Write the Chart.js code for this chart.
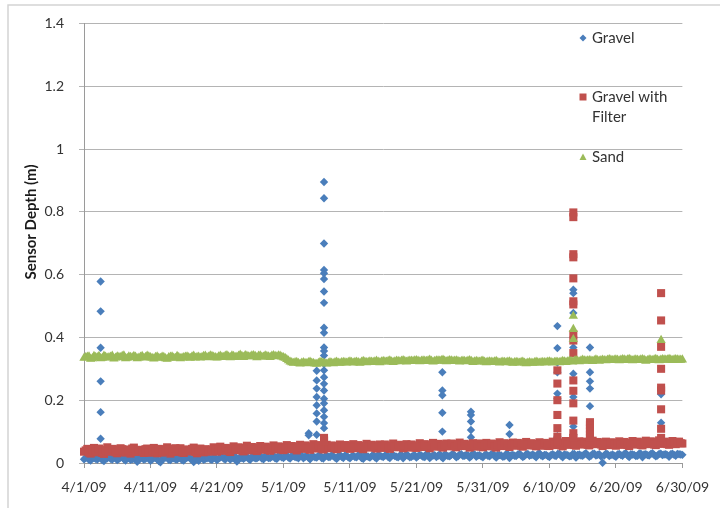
<!DOCTYPE html>
<html>
<head>
    <meta charset="UTF-8">
    <title>sensorDepth</title>
    <script src="https://cdn.jsdelivr.net/npm/chart.js"></script>
    <style>
        body { margin: 0; background: #fff; }
    </style>
</head>
<body>
    <div style="width:720px;height:508px">
        <canvas id="depthChart" width="720" height="508"></canvas>
    </div>

    <script>
        // x = days since 4/1/09; *Base readings at 0, 0.5, 1 ... and *Mid readings at 0.25, 0.75 ...
        var stepDays = 0.5;
        var xTickLabels = ['4/1/09', '4/11/09', '4/21/09', '5/1/09', '5/11/09', '5/21/09', '5/31/09', '6/10/09', '6/20/09', '6/30/09'];
        var yTickLabels = ['0', '0.2', '0.4', '0.6', '0.8', '1', '1.2', '1.4'];
        var seriesNames = ['Gravel', 'Gravel with Filter', 'Sand'];

        var gravelBase = [
            0.012, 0.020, 0.008, 0.016, 0.011, 0.022, 0.006, 0.015, 0.013, 0.019, 0.009, 0.017, 0.012, 0.021, 0.010, 0.014, 0.004, 0.018, 0.011, 0.020,
            0.007, 0.016, 0.012, 0.002, 0.014, 0.019, 0.009, 0.015, 0.011, 0.021, 0.008, 0.017, 0.013, 0.003, 0.016, 0.020, 0.010, 0.015, 0.012, 0.019,
            0.009, 0.018, 0.014, 0.022, 0.011, 0.017, 0.005, 0.019, 0.013, 0.021, 0.010, 0.018, 0.015, 0.023, 0.012, 0.020, 0.016, 0.024, 0.013, 0.021,
            0.016, 0.025, 0.014, 0.022, 0.018, 0.026, 0.015, 0.023, 0.012, 0.021, 0.017, 0.025, 0.014, 0.024, 0.019, 0.022, 0.013, 0.026, 0.016, 0.023,
            0.015, 0.024, 0.018, 0.027, 0.013, 0.022, 0.017, 0.026, 0.014, 0.023, 0.019, 0.027, 0.016, 0.025, 0.020, 0.024, 0.015, 0.028, 0.018, 0.023,
            0.017, 0.026, 0.020, 0.029, 0.016, 0.024, 0.019, 0.028, 0.015, 0.025, 0.021, 0.029, 0.018, 0.027, 0.022, 0.026, 0.017, 0.030, 0.020, 0.025,
            0.018, 0.027, 0.021, 0.030, 0.017, 0.025, 0.020, 0.029, 0.016, 0.026, 0.022, 0.030, 0.019, 0.028, 0.023, 0.027, 0.018, 0.031, 0.021, 0.026,
            0.019, 0.028, 0.022, 0.030, 0.018, 0.026, 0.021, 0.029, 0.017, 0.027, 0.023, 0.031, 0.020, 0.029, 0.024, 0.028, 0.001, 0.030, 0.022, 0.027,
            0.020, 0.029, 0.023, 0.031, 0.019, 0.027, 0.022, 0.030, 0.018, 0.028, 0.024, 0.031, 0.021, 0.029, 0.025, 0.028, 0.020, 0.030, 0.023, 0.028, 0.026
        ];
        var gravelMid = [
            0.016, 0.010, 0.018, 0.013, 0.017, 0.009, 0.014, 0.019, 0.011, 0.015, 0.013, 0.020, 0.008, 0.016, 0.012, 0.018, 0.010, 0.015, 0.013, 0.017,
            0.011, 0.019, 0.006, 0.013, 0.017, 0.010, 0.018, 0.012, 0.016, 0.009, 0.014, 0.020, 0.011, 0.015, 0.007, 0.018, 0.013, 0.017, 0.010, 0.016,
            0.014, 0.020, 0.011, 0.017, 0.015, 0.021, 0.012, 0.016, 0.018, 0.013, 0.020, 0.015, 0.019, 0.014, 0.022, 0.016, 0.020, 0.015, 0.023, 0.018,
            0.021, 0.017, 0.023, 0.019, 0.015, 0.024, 0.020, 0.017, 0.022, 0.018, 0.023, 0.016, 0.021, 0.019, 0.025, 0.017, 0.022, 0.020, 0.024, 0.018,
            0.021, 0.019, 0.025, 0.016, 0.024, 0.020, 0.022, 0.018, 0.026, 0.021, 0.023, 0.019, 0.024, 0.022, 0.018, 0.026, 0.021, 0.023, 0.020, 0.025,
            0.022, 0.024, 0.019, 0.027, 0.021, 0.025, 0.023, 0.020, 0.027, 0.022, 0.026, 0.024, 0.021, 0.028, 0.023, 0.025, 0.022, 0.027, 0.024, 0.021,
            0.025, 0.023, 0.028, 0.022, 0.026, 0.024, 0.021, 0.028, 0.025, 0.023, 0.027, 0.024, 0.022, 0.029, 0.025, 0.023, 0.028, 0.024, 0.026, 0.022,
            0.026, 0.024, 0.029, 0.023, 0.027, 0.025, 0.022, 0.029, 0.026, 0.024, 0.028, 0.025, 0.023, 0.030, 0.026, 0.021, 0.024, 0.028, 0.025, 0.023,
            0.027, 0.025, 0.029, 0.024, 0.028, 0.026, 0.023, 0.030, 0.027, 0.025, 0.029, 0.026, 0.024, 0.030, 0.027, 0.025, 0.028, 0.026, 0.029, 0.027
        ];
        var filterBase = [
            0.036, 0.045, 0.030, 0.048, 0.034, 0.042, 0.029, 0.050, 0.038, 0.044, 0.031, 0.047, 0.035, 0.043, 0.030, 0.049, 0.037, 0.041, 0.032, 0.046,
            0.034, 0.048, 0.031, 0.044, 0.036, 0.050, 0.030, 0.045, 0.035, 0.047, 0.032, 0.043, 0.037, 0.049, 0.031, 0.046, 0.034, 0.042, 0.038, 0.050,
            0.036, 0.052, 0.039, 0.047, 0.035, 0.053, 0.041, 0.048, 0.037, 0.055, 0.040, 0.049, 0.038, 0.054, 0.042, 0.050, 0.039, 0.056, 0.043, 0.051,
            0.041, 0.057, 0.044, 0.052, 0.040, 0.058, 0.045, 0.053, 0.042, 0.060, 0.046, 0.055, 0.043, 0.058, 0.047, 0.054, 0.044, 0.059, 0.048, 0.056,
            0.045, 0.060, 0.047, 0.055, 0.044, 0.061, 0.049, 0.056, 0.046, 0.059, 0.048, 0.054, 0.045, 0.062, 0.050, 0.057, 0.047, 0.060, 0.049, 0.055,
            0.048, 0.063, 0.051, 0.058, 0.047, 0.064, 0.052, 0.059, 0.049, 0.062, 0.053, 0.060, 0.050, 0.065, 0.054, 0.058, 0.049, 0.063, 0.052, 0.061,
            0.050, 0.064, 0.053, 0.060, 0.049, 0.066, 0.054, 0.061, 0.051, 0.065, 0.055, 0.062, 0.052, 0.067, 0.056, 0.061, 0.053, 0.066, 0.055, 0.063,
            0.054, 0.068, 0.057, 0.064, 0.053, 0.070, 0.058, 0.065, 0.055, 0.069, 0.059, 0.066, 0.056, 0.071, 0.060, 0.065, 0.054, 0.068, 0.057, 0.064,
            0.055, 0.069, 0.058, 0.065, 0.054, 0.070, 0.059, 0.066, 0.056, 0.071, 0.060, 0.067, 0.057, 0.072, 0.061, 0.066, 0.058, 0.070, 0.060, 0.068, 0.062
        ];
        var filterMid = [
            0.040, 0.033, 0.043, 0.038, 0.046, 0.032, 0.041, 0.036, 0.045, 0.034, 0.039, 0.044, 0.033, 0.040, 0.046, 0.035, 0.042, 0.038, 0.044, 0.033,
            0.041, 0.037, 0.045, 0.033, 0.040, 0.043, 0.036, 0.047, 0.039, 0.034, 0.042, 0.038, 0.045, 0.035, 0.041, 0.039, 0.044, 0.036, 0.043, 0.040,
            0.044, 0.041, 0.048, 0.038, 0.046, 0.043, 0.050, 0.040, 0.047, 0.044, 0.051, 0.042, 0.048, 0.045, 0.052, 0.043, 0.049, 0.046, 0.053, 0.045,
            0.050, 0.047, 0.054, 0.045, 0.051, 0.048, 0.056, 0.046, 0.052, 0.049, 0.057, 0.047, 0.053, 0.050, 0.056, 0.048, 0.054, 0.051, 0.057, 0.049,
            0.053, 0.050, 0.057, 0.048, 0.054, 0.051, 0.058, 0.049, 0.055, 0.052, 0.059, 0.050, 0.056, 0.053, 0.058, 0.051, 0.055, 0.052, 0.059, 0.050,
            0.056, 0.053, 0.060, 0.051, 0.057, 0.054, 0.061, 0.052, 0.058, 0.055, 0.062, 0.053, 0.059, 0.056, 0.061, 0.054, 0.058, 0.055, 0.062, 0.053,
            0.058, 0.055, 0.062, 0.053, 0.059, 0.056, 0.063, 0.054, 0.060, 0.057, 0.064, 0.055, 0.061, 0.058, 0.063, 0.056, 0.060, 0.057, 0.064, 0.055,
            0.061, 0.058, 0.066, 0.056, 0.062, 0.059, 0.067, 0.057, 0.063, 0.060, 0.068, 0.058, 0.064, 0.061, 0.067, 0.059, 0.062, 0.060, 0.066, 0.058,
            0.062, 0.059, 0.067, 0.057, 0.063, 0.060, 0.068, 0.058, 0.064, 0.061, 0.069, 0.059, 0.065, 0.062, 0.068, 0.060, 0.064, 0.061, 0.067, 0.063
        ];
        var sandBase = [
            0.334, 0.338, 0.331, 0.340, 0.336, 0.333, 0.341, 0.335, 0.338, 0.332, 0.339, 0.336, 0.342, 0.334, 0.337, 0.340, 0.333, 0.338, 0.335, 0.341,
            0.336, 0.332, 0.339, 0.334, 0.337, 0.331, 0.338, 0.335, 0.340, 0.333, 0.336, 0.339, 0.334, 0.341, 0.337, 0.335, 0.340, 0.336, 0.342, 0.338,
            0.335, 0.341, 0.337, 0.343, 0.336, 0.340, 0.338, 0.344, 0.337, 0.341, 0.339, 0.343, 0.336, 0.342, 0.338, 0.340, 0.337, 0.343, 0.339, 0.341,
            0.336, 0.330, 0.322, 0.318, 0.321, 0.316, 0.320, 0.317, 0.322, 0.318, 0.315, 0.321, 0.319, 0.316, 0.320, 0.317, 0.322, 0.318, 0.321, 0.319,
            0.323, 0.319, 0.322, 0.318, 0.324, 0.320, 0.323, 0.321, 0.325, 0.320, 0.324, 0.322, 0.326, 0.321, 0.325, 0.323, 0.327, 0.322, 0.325, 0.324,
            0.327, 0.323, 0.326, 0.324, 0.328, 0.322, 0.326, 0.325, 0.328, 0.323, 0.327, 0.324, 0.326, 0.322, 0.325, 0.323, 0.327, 0.321, 0.324, 0.322,
            0.325, 0.320, 0.323, 0.321, 0.324, 0.319, 0.322, 0.320, 0.323, 0.318, 0.321, 0.319, 0.322, 0.317, 0.320, 0.318, 0.322, 0.319, 0.321, 0.320,
            0.323, 0.319, 0.322, 0.320, 0.324, 0.321, 0.325, 0.322, 0.327, 0.323, 0.328, 0.325, 0.327, 0.324, 0.329, 0.325, 0.328, 0.326, 0.330, 0.327,
            0.329, 0.326, 0.330, 0.327, 0.331, 0.326, 0.329, 0.327, 0.330, 0.325, 0.329, 0.327, 0.331, 0.326, 0.330, 0.328, 0.331, 0.327, 0.330, 0.328, 0.329
        ];
        var sandMid = [
            0.336, 0.339, 0.333, 0.337, 0.340, 0.334, 0.338, 0.336, 0.341, 0.335, 0.337, 0.340, 0.333, 0.339, 0.336, 0.338, 0.335, 0.340, 0.337, 0.339,
            0.334, 0.337, 0.335, 0.338, 0.333, 0.336, 0.339, 0.334, 0.337, 0.335, 0.338, 0.336, 0.339, 0.335, 0.338, 0.337, 0.341, 0.338, 0.340, 0.336,
            0.339, 0.338, 0.341, 0.339, 0.342, 0.337, 0.341, 0.340, 0.343, 0.339, 0.342, 0.340, 0.341, 0.338, 0.342, 0.339, 0.341, 0.340, 0.342, 0.338,
            0.334, 0.326, 0.320, 0.320, 0.318, 0.319, 0.318, 0.320, 0.319, 0.316, 0.318, 0.320, 0.317, 0.318, 0.319, 0.320, 0.319, 0.320, 0.320, 0.321,
            0.321, 0.321, 0.320, 0.322, 0.322, 0.321, 0.322, 0.323, 0.322, 0.323, 0.323, 0.324, 0.323, 0.323, 0.324, 0.325, 0.324, 0.324, 0.325, 0.326,
            0.325, 0.325, 0.325, 0.326, 0.325, 0.324, 0.326, 0.327, 0.325, 0.325, 0.326, 0.325, 0.324, 0.324, 0.324, 0.325, 0.324, 0.323, 0.323, 0.324,
            0.322, 0.322, 0.322, 0.323, 0.321, 0.321, 0.321, 0.322, 0.320, 0.320, 0.320, 0.321, 0.319, 0.319, 0.319, 0.320, 0.320, 0.320, 0.320, 0.322,
            0.321, 0.321, 0.321, 0.322, 0.323, 0.323, 0.324, 0.325, 0.325, 0.326, 0.326, 0.326, 0.326, 0.327, 0.327, 0.327, 0.327, 0.328, 0.328, 0.328,
            0.328, 0.328, 0.329, 0.329, 0.328, 0.328, 0.328, 0.329, 0.328, 0.327, 0.328, 0.329, 0.328, 0.328, 0.329, 0.329, 0.329, 0.329, 0.329, 0.328
        ];

        // flushing events: day of the event and the readings logged during it
        var gravelSpikeDays = [2.5, 33.8, 35, 36.1, 53.9, 58.2, 64, 71.2, 73.6, 76.1, 86.8];
        var gravelSpikeValues = [
            [0.578, 0.483, 0.367, 0.26, 0.162, 0.077],
            [0.095, 0.088],
            [0.294, 0.263, 0.237, 0.21, 0.184, 0.158, 0.132, 0.09],
            [0.895, 0.843, 0.699, 0.615, 0.604, 0.586, 0.546, 0.51, 0.431, 0.415, 0.368, 0.357, 0.342, 0.316, 0.295, 0.273, 0.252, 0.231, 0.205, 0.19, 0.168, 0.147, 0.127, 0.111],
            [0.289, 0.231, 0.216, 0.16, 0.1],
            [0.163, 0.153, 0.132, 0.105, 0.082],
            [0.121, 0.092],
            [0.436, 0.366, 0.32, 0.289, 0.221, 0.205, 0.085],
            [0.552, 0.541, 0.478, 0.368, 0.284, 0.21, 0.116, 0.09],
            [0.368, 0.289, 0.26, 0.237, 0.181],
            [0.219, 0.128]
        ];
        var filterSpikeDays = [36.1, 71.2, 73.6, 76.1, 86.8];
        var filterSpikeValues = [
            [0.08, 0.075, 0.07],
            [0.295, 0.253, 0.2, 0.153, 0.111, 0.084, 0.07],
            [0.798, 0.783, 0.665, 0.655, 0.588, 0.515, 0.505, 0.41, 0.39, 0.35, 0.263, 0.23, 0.19, 0.135, 0.095, 0.08],
            [0.13, 0.12, 0.11, 0.1, 0.09, 0.08],
            [0.541, 0.454, 0.37, 0.3, 0.24, 0.231, 0.171, 0.109, 0.08]
        ];
        var sandSpikeDays = [73.6, 86.8];
        var sandSpikeValues = [
            [0.468, 0.426, 0.394],
            [0.391]
        ];

        var colors = ['#4a7ebb', '#c0504d', '#9bbb59'];
        var markers = ['rectRot', 'rect', 'triangle'];

        function buildPoints(base, mid, spikeDays, spikeValues) {
            var pts = [];
            for (var i = 0; i < base.length; i++) {
                pts.push({ x: i * stepDays, y: base[i] });
            }
            for (var m = 0; m < mid.length; m++) {
                pts.push({ x: m * stepDays + stepDays / 2, y: mid[m] });
            }
            for (var j = 0; j < spikeDays.length; j++) {
                for (var k = 0; k < spikeValues[j].length; k++) {
                    pts.push({ x: spikeDays[j], y: spikeValues[j][k] });
                }
            }
            return pts;
        }

        function drawMarker(ctx, style, x, y, color) {
            ctx.fillStyle = color;
            ctx.beginPath();
            if (style === 'rectRot') {
                ctx.moveTo(x, y - 3.5); ctx.lineTo(x + 3.5, y); ctx.lineTo(x, y + 3.5); ctx.lineTo(x - 3.5, y);
            } else if (style === 'rect') {
                ctx.rect(x - 3.5, y - 3.5, 7, 7);
            } else {
                ctx.moveTo(x, y - 3.5); ctx.lineTo(x + 3.5, y + 3); ctx.lineTo(x - 3.5, y + 3);
            }
            ctx.closePath();
            ctx.fill();
        }

        // outer frame, legend and y axis title
        var decorations = {
            id: 'decorations',
            beforeDraw: function (chart) {
                var ctx = chart.ctx;
                ctx.save();
                ctx.strokeStyle = '#d4d4d4';
                ctx.lineWidth = 1.5;
                ctx.beginPath();
                ctx.moveTo(8, 508);
                ctx.lineTo(8, 5);
                ctx.lineTo(720, 5);
                ctx.stroke();
                ctx.restore();
            },
            afterDraw: function (chart) {
                var ctx = chart.ctx;
                ctx.save();
                var rowTops = [38, 97, 157];
                ctx.font = '15px Lato';
                ctx.textBaseline = 'middle';
                ctx.textAlign = 'left';
                for (var i = 0; i < seriesNames.length; i++) {
                    drawMarker(ctx, markers[i], 583, rowTops[i], colors[i]);
                    ctx.fillStyle = '#333333';
                    var words = seriesNames[i].split(' ');
                    var line = '';
                    var y = rowTops[i];
                    for (var w = 0; w < words.length; w++) {
                        var test = line ? line + ' ' + words[w] : words[w];
                        if (line && ctx.measureText(test).width > 100) {
                            ctx.fillText(line, 592, y);
                            line = words[w];
                            y += 20;
                        } else {
                            line = test;
                        }
                    }
                    ctx.fillText(line, 592, y);
                }

                ctx.translate(31, 222);
                ctx.rotate(-Math.PI / 2);
                ctx.textAlign = 'center';
                ctx.font = 'bold 15px Lato';
                ctx.fillStyle = '#1a1a1a';
                ctx.fillText('Sensor Depth (m)', 0, 0);
                ctx.restore();
            }
        };

        function createDepthChart() {
            var ctx = document.getElementById('depthChart').getContext('2d');
            var bases = [gravelBase, filterBase, sandBase];
            var mids = [gravelMid, filterMid, sandMid];
            var spikeDays = [gravelSpikeDays, filterSpikeDays, sandSpikeDays];
            var spikeValues = [gravelSpikeValues, filterSpikeValues, sandSpikeValues];
            var radii = [4.2, 5.7, 5.4];
            var datasets = [];
            for (var i = 0; i < seriesNames.length; i++) {
                datasets.push({
                    label: seriesNames[i],
                    data: buildPoints(bases[i], mids[i], spikeDays[i], spikeValues[i]),
                    pointStyle: markers[i],
                    pointRadius: radii[i],
                    backgroundColor: colors[i],
                    borderColor: colors[i],
                    borderWidth: 0,
                    clip: false,
                    order: seriesNames.length - 1 - i
                });
            }

            var depthChart = new Chart(ctx, {
                type: 'scatter',
                data: { datasets: datasets },
                options: {
                    responsive: false,
                    animation: false,
                    devicePixelRatio: 1,
                    layout: { padding: { top: 19, right: 28, left: 0, bottom: 0 } },
                    plugins: {
                        legend: { display: false },
                        tooltip: { enabled: false }
                    },
                    scales: {
                        x: {
                            type: 'linear',
                            min: 0,
                            max: 90,
                            afterFit: function (scale) { scale.height = 45; },
                            border: { color: '#9a9a9a' },
                            grid: { drawOnChartArea: false, drawTicks: true, tickLength: 5, color: '#9a9a9a' },
                            ticks: {
                                stepSize: 10,
                                maxRotation: 0,
                                autoSkip: false,
                                padding: 11,
                                color: '#333333',
                                font: { family: 'Lato', size: 14 },
                                callback: function (value) { return xTickLabels[Math.round(value / 10)]; }
                            }
                        },
                        y: {
                            min: 0,
                            max: 1.4,
                            afterFit: function (scale) { scale.width = 84; },
                            border: { color: '#9a9a9a' },
                            grid: { color: '#b4b4b4', tickLength: 5 },
                            ticks: {
                                stepSize: 0.2,
                                padding: 15,
                                color: '#333333',
                                font: { family: 'Lato', size: 14 },
                                callback: function (value, index) { return yTickLabels[index]; }
                            }
                        }
                    }
                },
                plugins: [decorations]
            });
        }
        createDepthChart();
    </script>
</body>
</html>
